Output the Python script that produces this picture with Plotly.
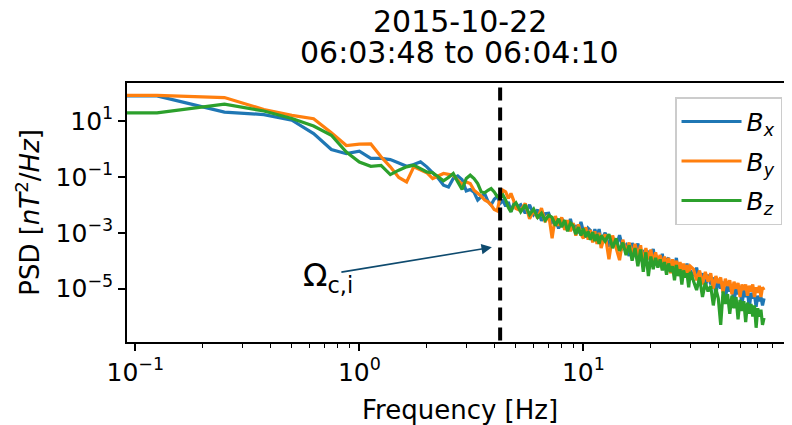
import plotly.graph_objects as go

# ---------------- data ----------------
title_lines = ["2015-10-22", "06:03:48 to 06:04:10"]
series_names = ["<i>B</i><sub><i>x</i></sub>", "<i>B</i><sub><i>y</i></sub>", "<i>B</i><sub><i>z</i></sub>"]
series_colors = ["#1f77b4", "#ff7f0e", "#2ca02c"]
f_ci = 4.25  # ion cyclotron frequency [Hz]

# frequency grid [Hz]; first entry is the left edge of the picture
freq_edge = [0.08]
freq_a = [0.125, 0.25, 0.375, 0.5, 0.625, 0.75, 0.875, 1.0, 1.125, 1.25, 1.375, 1.5, 1.625, 1.75,
          1.875, 2.0, 2.125, 2.25, 2.375, 2.5, 2.625, 2.75, 2.875, 3.0, 3.125, 3.25, 3.375, 3.5,
          3.625, 3.75, 3.875, 4.0, 4.125, 4.25, 4.375, 4.5, 4.625, 4.75, 4.875, 5.0]
freq_b = [5.25, 5.5, 5.75, 6.0, 6.25, 6.5, 6.75, 7.0, 7.25, 7.5, 7.75, 8.0, 8.25, 8.5, 8.75, 9.0,
          9.25, 9.5, 9.75, 10.0, 10.25, 10.5, 10.75, 11.0, 11.25, 11.5, 11.75, 12.0]
freq_c = [12.5, 13.0, 13.5, 14.0, 14.5, 15.0, 15.5, 16.0, 16.5, 17.0, 17.5, 18.0, 18.5, 19.0, 19.5,
          20.0, 20.5, 21.0, 21.5, 22.0, 22.5, 23.0, 23.5, 24.0, 24.5, 25.0, 25.5, 26.0, 26.5, 27.0,
          27.5, 28.0, 28.5, 29.0, 29.5, 30.0]
freq_d = [31, 32, 33, 34, 35, 36, 37, 38, 39, 40, 41, 42, 43, 44, 45, 46, 47, 48, 49, 50, 51, 52,
          53, 54, 55, 56, 57, 58, 59, 60, 61, 62, 63, 64]

# PSD values as log10(nT^2/Hz)
bx_log = ([1.90] +
          [1.90, 1.32, 1.23, 1.03, 0.55, -0.02, -0.17, -0.08, -0.34, -0.34, -0.38, -0.50, -0.62, -0.56,
           -0.46, -0.64, -0.85, -1.05, -1.30, -1.36, -1.06, -0.97, -1.10, -1.50, -1.45, -1.55, -1.83,
           -1.72, -1.60, -1.88, -2.00, -1.80, -1.70, -1.95, -1.85, -2.05, -1.90, -2.25, -2.00, -2.10] +
          [-2.00, -2.30, -2.00, -2.35, -2.18, -2.57, -2.32, -2.30, -2.62, -2.50, -2.85, -2.50, -2.63,
           -2.91, -2.50, -2.90, -2.73, -3.02, -2.61, -2.95, -3.17, -2.84, -2.92, -3.30, -2.87, -3.15,
           -2.87, -3.30] +
          [-3.00, -3.50, -3.19, -3.48, -3.09, -3.55, -3.44, -3.83, -3.37, -3.65, -3.39, -3.88, -3.62,
           -4.11, -3.65, -3.85, -3.58, -4.11, -3.89, -4.12, -3.75, -4.33, -3.96, -3.90, -4.37, -4.10,
           -4.27, -3.90, -4.43, -4.10, -4.63, -4.20, -4.38, -4.10, -4.58, -4.35] +
          [-4.55, -4.25, -4.80, -4.45, -4.95, -4.50, -4.85, -4.60, -5.20, -4.70, -5.00, -4.75, -5.35,
           -4.85, -5.10, -4.90, -5.50, -4.95, -5.20, -5.00, -5.60, -5.05, -5.30, -5.10, -5.70, -5.15,
           -5.35, -5.20, -5.65, -5.25, -5.45, -5.30, -5.60, -5.35])

by_log = ([1.92] +
          [1.92, 1.84, 1.41, 1.20, 1.08, 0.58, 0.12, 0.17, 0.18, -0.28, -0.64, -1.02, -1.18, -0.64,
           -0.74, -0.85, -1.06, -0.97, -0.88, -0.91, -0.94, -1.12, -1.26, -1.18, -1.24, -1.48, -1.57,
           -1.69, -1.83, -1.89, -2.01, -2.17, -2.22, -1.71, -1.48, -1.54, -1.77, -1.59, -1.83, -2.13] +
          [-2.20, -1.95, -2.50, -2.20, -2.48, -2.12, -2.62, -2.35, -3.20, -2.40, -2.75, -2.45, -2.90,
           -2.55, -2.95, -2.65, -3.10, -2.70, -3.05, -3.20, -2.80, -3.25, -2.90, -3.35, -2.95, -3.40,
           -3.00, -3.55] +
          [-3.05, -3.95, -3.10, -3.60, -3.98, -3.25, -3.70, -3.35, -3.80, -3.40, -3.85, -3.45, -4.10,
           -3.55, -3.95, -3.60, -4.15, -3.70, -4.05, -3.80, -4.30, -3.85, -4.20, -3.90, -4.45, -3.95,
           -4.30, -4.00, -4.50, -4.05, -4.40, -4.10, -4.60, -4.15, -4.45, -4.20] +
          [-4.30, -4.70, -4.35, -4.85, -4.40, -4.75, -4.45, -5.00, -4.55, -4.80, -4.60, -5.15, -4.65,
           -4.90, -4.70, -5.20, -4.75, -5.00, -4.80, -5.30, -4.85, -5.05, -4.85, -5.25, -4.90, -5.10,
           -4.85, -5.30, -4.95, -5.15, -4.90, -5.30, -4.95, -5.05])

bz_log = ([1.29] +
          [1.29, 1.60, 1.36, 1.09, 0.82, 0.49, -0.11, -0.47, -0.62, -0.59, -0.92, -0.76, -0.64, -0.58,
           -0.70, -0.82, -0.85, -1.00, -1.14, -1.02, -0.88, -1.18, -1.45, -1.06, -0.94, -1.06, -1.24,
           -1.54, -1.57, -1.48, -1.42, -1.54, -1.71, -1.74, -1.65, -1.83, -2.10, -2.25, -2.01, -1.93] +
          [-2.25, -2.00, -2.35, -2.15, -2.45, -2.30, -2.55, -2.38, -2.45, -2.75, -2.50, -2.80, -2.55,
           -2.95, -2.65, -2.75, -3.05, -2.80, -3.10, -2.85, -3.15, -2.95, -3.25, -2.98, -3.30, -3.05,
           -3.40, -3.10] +
          [-3.30, -3.05, -3.55, -3.20, -3.65, -3.35, -3.80, -3.45, -4.00, -3.55, -4.20, -3.60, -4.40,
           -3.70, -4.55, -3.85, -4.30, -3.90, -4.25, -3.95, -4.35, -4.05, -4.50, -4.10, -4.40, -4.20,
           -4.70, -4.15, -4.55, -4.30, -4.85, -4.35, -4.60, -4.45, -4.95, -4.40] +
          [-4.70, -5.05, -4.60, -5.30, -4.80, -5.10, -4.90, -5.60, -5.00, -5.35, -6.30, -5.10, -5.55,
           -5.20, -5.90, -5.25, -5.70, -5.30, -6.10, -5.40, -5.80, -5.45, -6.20, -5.50, -5.90, -5.55,
           -6.00, -5.60, -6.40, -5.70, -6.00, -5.75, -6.30, -6.05])

x_tick_vals = [0.1, 1, 10]
x_tick_text = ["10<sup>−1</sup>", "10<sup>0</sup>", "10<sup>1</sup>"]
y_tick_vals = [1e1, 1e-1, 1e-3, 1e-5]
y_tick_text = ["10<sup>1</sup>", "10<sup>−1</sup>", "10<sup>−3</sup>", "10<sup>−5</sup>"]
x_minor_vals = [0.2, 0.3, 0.4, 0.5, 0.6, 0.7, 0.8, 0.9, 2, 3, 4, 5, 6, 7, 8, 9,
                20, 30, 40, 50, 60, 70, 80]

# ---------------- figure ----------------
freq = freq_edge + freq_a + freq_b + freq_c + freq_d
logs = [bx_log, by_log, bz_log]
for lg in logs:
    assert len(lg) == len(freq)

FONT = "DejaVu Sans"
fig = go.Figure()
for name, col, lg in zip(series_names, series_colors, logs):
    fig.add_trace(go.Scatter(
        x=freq, y=[10 ** v for v in lg], mode="lines", name=name,
        line=dict(color=col, width=3.2), legendgroup=name,
    ))

# dashed vertical line at the ion cyclotron frequency
fig.add_trace(go.Scatter(
    x=[f_ci, f_ci], y=[1e-9, 1e4], mode="lines", showlegend=False,
    line=dict(color="black", width=4, dash="13px,7px"), hoverinfo="skip",
))

# page body has an 8 px margin, so the figure is 8 px smaller than the window
fig.update_layout(
    width=784, height=417,
    margin=dict(l=119, r=0, t=75, b=83),
    paper_bgcolor="white", plot_bgcolor="white",
    font=dict(family=FONT, color="black"),
    showlegend=True,
    legend=dict(
        x=0.985, y=0.945, xanchor="right", yanchor="top",
        bordercolor="#cccccc", borderwidth=1.5, bgcolor="rgba(255,255,255,0.85)",
        font=dict(family=FONT, size=25), tracegroupgap=4, itemwidth=60,
    ),
    xaxis=dict(
        type="log", range=[-1.037, 1.931],
        tickmode="array", tickvals=x_tick_vals, ticktext=x_tick_text,
        ticks="outside", ticklen=7, tickwidth=1.6, tickcolor="black",
        showline=True, linecolor="black", linewidth=1.6, mirror=True,
        showgrid=False, zeroline=False,
        tickfont=dict(family=FONT, size=25),
        minor=dict(tickmode="array", tickvals=x_minor_vals, ticks="outside",
                   ticklen=4, tickwidth=1.2, tickcolor="black", showgrid=False),
    ),
    yaxis=dict(
        type="log", range=[-6.91, 2.36],
        tickmode="array", tickvals=y_tick_vals, ticktext=y_tick_text,
        ticks="outside", ticklen=7, tickwidth=1.6, tickcolor="black",
        showline=True, linecolor="black", linewidth=1.6, mirror=False,
        showgrid=False, zeroline=False,
        tickfont=dict(family=FONT, size=25),
    ),
)

annotations = [
    dict(text=title_lines[0], xref="paper", yref="paper", x=0.5, y=1.236,
         xanchor="center", yanchor="middle", showarrow=False, font=dict(size=30)),
    dict(text=title_lines[1], xref="paper", yref="paper", x=0.5, y=1.1185,
         xanchor="center", yanchor="middle", showarrow=False, font=dict(size=30)),
    dict(text="Frequency [Hz]", xref="paper", yref="paper", x=0.5, y=-0.264,
         xanchor="center", yanchor="middle", showarrow=False, font=dict(size=26)),
    dict(text="PSD [<i>nT</i><sup>2</sup>/<i>Hz</i>]", xref="paper", yref="paper",
         x=-0.15, y=0.5, xanchor="center", yanchor="middle", textangle=-90,
         showarrow=False, font=dict(size=26)),
    dict(text="Ω<sub>c,i</sub>", xref="paper", yref="paper", x=0.303, y=0.25,
         xanchor="center", yanchor="middle", showarrow=False, font=dict(size=32)),
    dict(text="", x=0.5915, y=-3.522, xref="x", yref="y", showarrow=True,
         ax=-152, ay=25, arrowhead=2, arrowsize=1.3, arrowwidth=1.6,
         arrowcolor="#0e4a6e", standoff=0, startstandoff=0),
]
fig.update_layout(annotations=annotations)

fig.write_html("out.html")
